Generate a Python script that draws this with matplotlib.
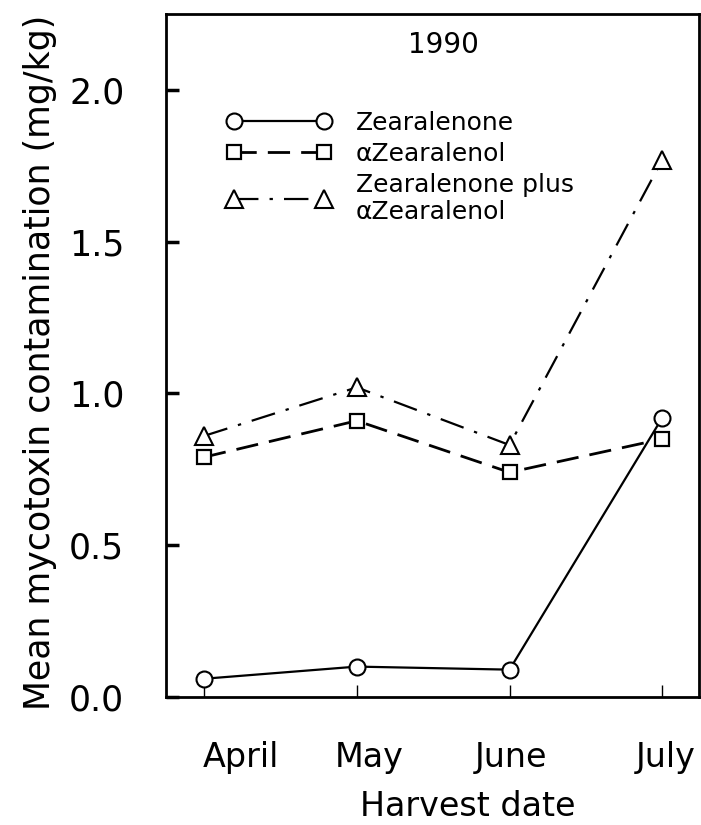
import matplotlib
matplotlib.use("Agg")
import matplotlib.pyplot as plt
import matplotlib.transforms as mtransforms

# Harvest months and mean mycotoxin levels (mg/kg), 1990
months = ["April", "May", "June", "July"]
month_pos = [1, 2, 3, 4]
month_label_pos = [1.24, 2.08, 3.01, 4.02]
zearalenone = [0.06, 0.10, 0.09, 0.92]
zearalenol = [0.79, 0.91, 0.74, 0.85]
combined = [0.86, 1.02, 0.83, 1.77]
yticks = [0.0, 0.5, 1.0, 1.5, 2.0]

plt.rcParams["font.family"] = ["DejaVu Sans"]

fig = plt.figure(figsize=(7.01, 8.25), dpi=100)
ax = fig.add_axes([0.2368, 0.1552, 0.7603, 0.8278])

ax.plot(month_pos, zearalenone, color="black", lw=1.6, marker="o", ms=11.5,
        mfc="white", mec="black", mew=1.5, label="Zearalenone", zorder=3)
ax.plot(month_pos, zearalenol, color="black", lw=2.0, dashes=(8, 4),
        marker="s", ms=10.5, mfc="white", mec="black", mew=1.6,
        label="\u03b1Zearalenol", zorder=3)
ax.plot(month_pos, combined, color="black", lw=1.6, dashes=(11, 5, 1.5, 5),
        marker="^", ms=13, mfc="white", mec="black", mew=1.5,
        label="Zearalenone plus\n\u03b1Zearalenol", zorder=3)

ax.set_xlim(0.751, 4.24)
ax.set_ylim(0, 2.25)

ax.set_yticks(yticks)
ax.set_yticklabels([f"{v:.1f}" for v in yticks])
ax.tick_params(axis="y", direction="in", length=9, width=2.5, pad=30,
               labelsize=25)
ax.set_xticks(month_pos)
ax.set_xticklabels([])
ax.tick_params(axis="x", direction="in", length=9, width=1.0)

for sp in ax.spines.values():
    sp.set_linewidth(2.0)

# month names sit a little to the right of their ticks
trans = mtransforms.blended_transform_factory(ax.transData, ax.transAxes)
for xp, name in zip(month_label_pos, months):
    ax.text(xp, -0.089, name, transform=trans, ha="center", va="center",
            fontsize=24)

ax.set_xlabel("Harvest date", fontsize=24)
ax.xaxis.set_label_coords(0.567, -0.136)
ax.set_ylabel("Mean mycotoxin contamination (mg/kg)", fontsize=25)
ax.yaxis.set_label_coords(-0.205, 0.49)

ax.text(0.52, 0.955, "1990", transform=ax.transAxes, ha="center",
        va="center", fontsize=20)

leg = ax.legend(loc="upper left", bbox_to_anchor=(0.114, 0.858),
                frameon=False, fontsize=18, numpoints=2, handlelength=4.2,
                handletextpad=0.95, labelspacing=0.28, borderpad=0,
                borderaxespad=0)
leg.get_texts()[2].set_linespacing(1.15)

fig.savefig("out.png", dpi=100)
